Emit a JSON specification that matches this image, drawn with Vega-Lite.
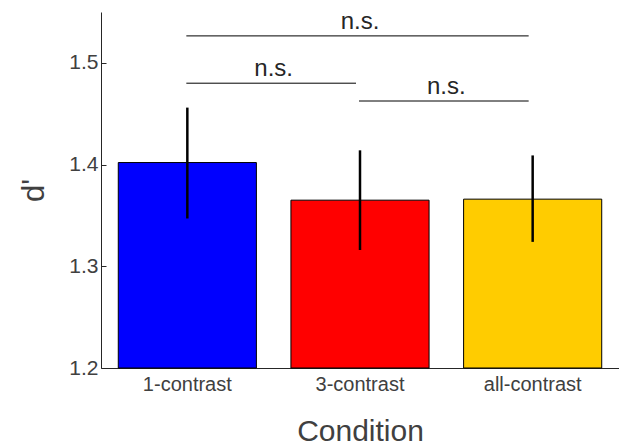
{
  "$schema": "https://vega.github.io/schema/vega-lite/v6.json",
  "width": 518,
  "height": 356,
  "autosize": {"type": "none"},
  "padding": {"left": 101, "top": 12, "right": 0, "bottom": 78},
  "background": "white",
  "config": {
    "view": {"stroke": null},
    "font": "Liberation Sans",
    "axis": {"grid": false, "domainColor": "#262626", "tickColor": "#262626", "labelColor": "#404040", "titleColor": "#404040", "labelFont": "Liberation Sans", "titleFont": "Liberation Sans", "titleFontWeight": "normal"}
  },
  "datasets": {
    "bars": [
      {"cond": "1-contrast", "dprime": 1.402, "lo": 1.347, "hi": 1.456},
      {"cond": "3-contrast", "dprime": 1.365, "lo": 1.316, "hi": 1.414},
      {"cond": "all-contrast", "dprime": 1.366, "lo": 1.324, "hi": 1.409}
    ],
    "sig": [
      {"from": "1-contrast", "to": "all-contrast", "y": 1.5265, "label": "n.s.", "level": "top"},
      {"from": "1-contrast", "to": "3-contrast", "y": 1.480, "label": "n.s.", "level": "low"},
      {"from": "3-contrast", "to": "all-contrast", "y": 1.4625, "label": "n.s.", "level": "low"}
    ]
  },
  "layer": [
    {
      "data": {"name": "bars"},
      "mark": {"type": "bar", "stroke": "black", "strokeWidth": 1},
      "encoding": {
        "x": {"field": "cond", "type": "nominal", "sort": null,
          "scale": {"paddingInner": 0.2, "paddingOuter": 0.1},
          "axis": {"title": "Condition", "labelAngle": 0, "labelFontSize": 20, "titleFontSize": 30, "tickSize": -5, "labelPadding": 11, "titlePadding": 22}},
        "y": {"field": "dprime", "type": "quantitative",
          "scale": {"domain": [1.2, 1.55], "zero": false, "nice": false},
          "axis": {"title": "d'", "values": [1.2, 1.3, 1.4, 1.5], "format": ".1f", "labelFontSize": 21, "titleFontSize": 31, "tickSize": -5, "labelPadding": 8, "titlePadding": 18}},
        "y2": {"datum": 1.2},
        "color": {"field": "cond", "type": "nominal", "sort": null,
          "scale": {"domain": ["1-contrast", "3-contrast", "all-contrast"], "range": ["#0000ff", "#ff0000", "#ffcc00"]},
          "legend": null}
      }
    },
    {
      "data": {"name": "bars"},
      "mark": {"type": "rule", "color": "black", "strokeWidth": 2.5},
      "encoding": {
        "x": {"field": "cond", "type": "nominal", "sort": null},
        "y": {"field": "lo", "type": "quantitative"},
        "y2": {"field": "hi"}
      }
    },
    {
      "data": {"name": "sig"},
      "mark": {"type": "rule", "color": "black", "strokeWidth": 1, "xOffset": -1, "x2Offset": -4},
      "encoding": {
        "x": {"field": "from", "type": "nominal", "sort": null},
        "x2": {"field": "to"},
        "y": {"field": "y", "type": "quantitative"}
      }
    },
    {
      "data": {"name": "sig"},
      "transform": [{"filter": "datum.level === 'top'"}],
      "mark": {"type": "text", "fontSize": 24, "baseline": "alphabetic", "dy": -7, "color": "#262626", "font": "Liberation Sans"},
      "encoding": {
        "x": {"datum": "3-contrast", "type": "nominal"},
        "y": {"field": "y", "type": "quantitative"},
        "text": {"field": "label"}
      }
    },
    {
      "data": {"name": "sig"},
      "transform": [{"filter": "datum.level === 'low'"}],
      "mark": {"type": "text", "fontSize": 24, "baseline": "alphabetic", "dy": -7, "color": "#262626", "font": "Liberation Sans"},
      "encoding": {
        "x": {"field": "from", "type": "nominal", "sort": null, "bandPosition": 1.125},
        "y": {"field": "y", "type": "quantitative"},
        "text": {"field": "label"}
      }
    }
  ]
}
